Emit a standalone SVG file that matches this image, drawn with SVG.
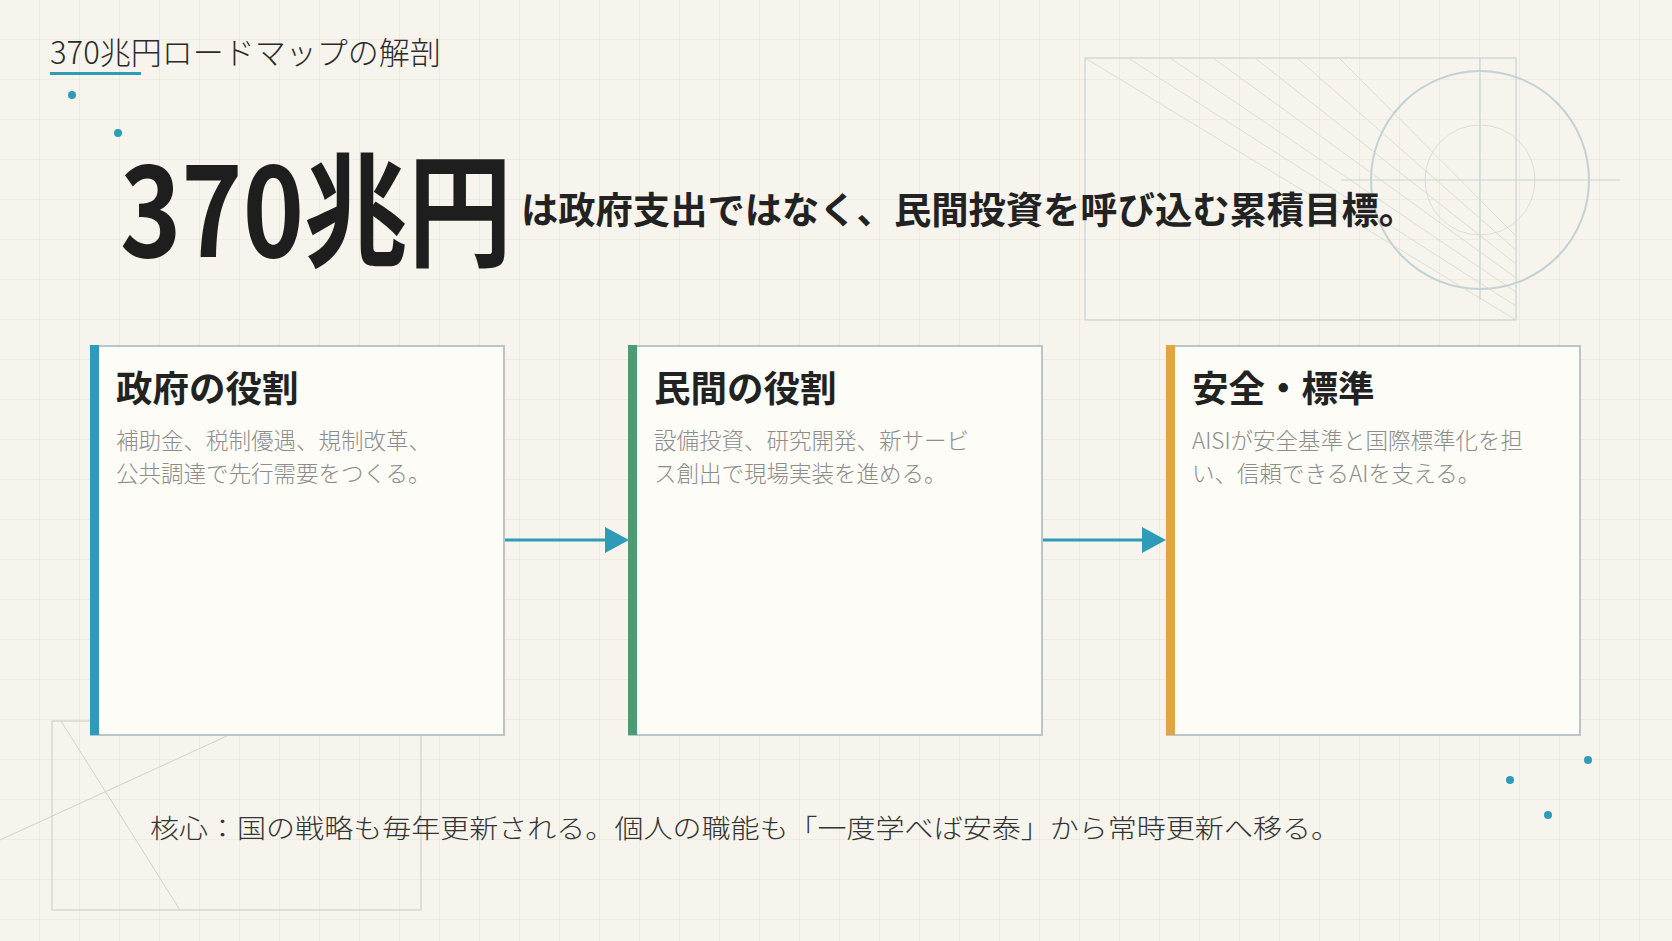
<svg xmlns="http://www.w3.org/2000/svg" width="1672" height="941" viewBox="0 0 1672 941">
<defs>
<pattern id="grid" width="40" height="40" patternUnits="userSpaceOnUse"><path d="M40 0V40M0 40H40" fill="none" stroke="#e6e2d4" stroke-width="1.2"/></pattern>
<style>
.jp{font-family:"Noto Sans CJK JP","Noto Sans",sans-serif}
.card{fill:#fdfcf6;stroke:#b9c5c7;stroke-width:2}
.ct{font-size:36.5px;font-weight:700;fill:#222}
.cb{font-size:22.5px;fill:#8c8c8c;font-weight:300}
.deco{fill:none;stroke:#c6d4d5;stroke-width:1.2}
.thin{fill:none;stroke:#cfd8d6;stroke-width:0.8}
.dot{fill:#2e9bb8}
</style>
</defs>
<rect width="1672" height="941" fill="#f6f4ec"/>
<rect width="1672" height="941" fill="url(#grid)"/>
<g id="deco-top">
<rect class="deco" x="1085" y="58" width="431" height="262"/>
<circle cx="1480" cy="180" r="109" fill="none" stroke="#c2d2d4" stroke-width="2"/>
<circle class="thin" cx="1480" cy="180" r="55"/>
<path class="deco" d="M1480 58V300M1341 180H1620" stroke="#aec3c4"/>
<path class="thin" d="M1085 58L1516 320M1128 58L1516 306M1170 58L1516 292M1213 58L1516 278M1255 58L1516 264M1297 58L1516 250M1339 58L1516 236"/>
</g>
<g id="deco-bottom">
<rect x="52" y="721" width="369" height="189" fill="none" stroke="#d2d0c8" stroke-width="1.2"/>
<path d="M61 721L180 910M0 840L227 736" fill="none" stroke="#d2d0c8" stroke-width="1"/>
</g>
<g id="dots">
<circle class="dot" cx="72" cy="95" r="4"/><circle class="dot" cx="118" cy="133" r="4"/>
<circle class="dot" cx="1510" cy="780" r="4"/><circle class="dot" cx="1588" cy="760" r="4"/><circle class="dot" cx="1548" cy="815" r="4"/>
</g>
<g id="title">
<text class="jp" x="50" y="64" font-size="31" font-weight="300" fill="#2a2a2a">370兆円ロードマップの解剖</text>
<rect x="50" y="72" width="91" height="3" fill="#2e9bb8"/>
</g>
<g id="headline">
<text class="jp" x="120" y="257" font-size="124" font-weight="700" fill="#1e1e1e" textLength="392" lengthAdjust="spacingAndGlyphs">370兆円</text>
<text class="jp" x="521" y="224" font-size="37" font-weight="700" fill="#222" textLength="895" lengthAdjust="spacingAndGlyphs">は政府支出ではなく、民間投資を呼び込む累積目標。</text>
</g>
<g id="connectors">
<path d="M504 540H608" stroke="#2e9bb8" stroke-width="3"/>
<path d="M605 527L629 540L605 553Z" fill="#2e9bb8"/>
<path d="M1042 540H1145" stroke="#2e9bb8" stroke-width="3"/>
<path d="M1142 527L1166 540L1142 553Z" fill="#2e9bb8"/>
</g>
<g id="card-gov">
<rect class="card" x="91" y="346" width="413" height="389"/>
<rect x="90" y="345" width="9" height="390" fill="#2e9bb8"/>
<text class="jp ct" x="116" y="402">政府の役割</text>
<text class="jp cb" x="116" y="449">補助金、税制優遇、規制改革、</text>
<text class="jp cb" x="116" y="482">公共調達で先行需要をつくる。</text>
</g>
<g id="card-private">
<rect class="card" x="629" y="346" width="413" height="389"/>
<rect x="628" y="345" width="9" height="390" fill="#4e9a72"/>
<text class="jp ct" x="654" y="402">民間の役割</text>
<text class="jp cb" x="654" y="449">設備投資、研究開発、新サービ</text>
<text class="jp cb" x="654" y="482">ス創出で現場実装を進める。</text>
</g>
<g id="card-safety">
<rect class="card" x="1167" y="346" width="413" height="389"/>
<rect x="1166" y="345" width="9" height="390" fill="#e3a443"/>
<text class="jp ct" x="1192" y="402">安全・標準</text>
<text class="jp cb" x="1192" y="449">AISIが安全基準と国際標準化を担</text>
<text class="jp cb" x="1192" y="482">い、信頼できるAIを支える。</text>
</g>
<g id="footer">
<text class="jp" x="150" y="838" font-size="26" font-weight="300" fill="#333" textLength="1190" lengthAdjust="spacingAndGlyphs">核心：国の戦略も毎年更新される。個人の職能も「一度学べば安泰」から常時更新へ移る。</text>
</g>
</svg>
